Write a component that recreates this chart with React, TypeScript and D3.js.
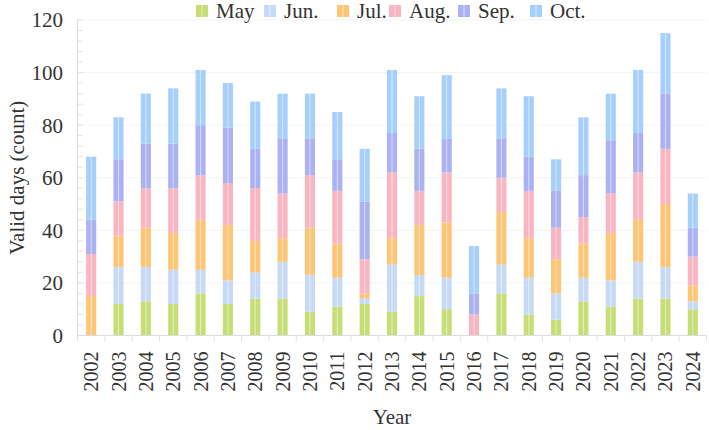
import React from 'react';
import * as d3 from 'd3';

// stacked monthly counts of valid days per year
const years = [
  '2002', '2003', '2004', '2005', '2006', '2007', '2008', '2009', '2010', '2011', '2012', '2013',
  '2014', '2015', '2016', '2017', '2018', '2019', '2020', '2021', '2022', '2023', '2024',
];
const months = ['May', 'Jun.', 'Jul.', 'Aug.', 'Sep.', 'Oct.'];
const may = [0, 12, 13, 12, 16, 12, 14, 14, 9, 11, 12, 9, 15, 10, 0, 16, 8, 6, 13, 11, 14, 14, 10];
const jun = [0, 14, 13, 13, 9, 9, 10, 14, 14, 11, 2, 18, 8, 12, 0, 11, 14, 10, 9, 10, 14, 12, 3];
const jul = [15, 12, 15, 14, 19, 21, 12, 9, 18, 13, 2, 10, 19, 21, 0, 20, 15, 13, 13, 18, 16, 24, 6];
const aug = [16, 13, 15, 17, 17, 16, 20, 17, 20, 20, 13, 25, 13, 19, 8, 13, 18, 12, 10, 15, 18, 21, 11];
const sep = [13, 16, 17, 17, 19, 21, 15, 21, 14, 12, 22, 15, 16, 13, 8, 15, 13, 14, 16, 20, 15, 21, 11];
const oct = [24, 16, 19, 21, 21, 17, 18, 17, 17, 18, 20, 24, 20, 24, 18, 19, 23, 12, 22, 18, 24, 23, 13];
const yTicks = [0, 20, 40, 60, 80, 100, 120];

const colors = ['#c7de76', '#c6daf6', '#fdc676', '#f9b6c2', '#aab2f3', '#a6cffb'];

const W = 709;
const H = 430;
const left = 77.5;
const right = 706.5;
const top = 20;
const bottom = 335.5;
const font = '"Liberation Serif", "Times New Roman", serif';

export default function App() {
  const rows = years.map((year, i) => ({
    year,
    'May': may[i],
    'Jun.': jun[i],
    'Jul.': jul[i],
    'Aug.': aug[i],
    'Sep.': sep[i],
    'Oct.': oct[i],
  }));
  const series = d3.stack<any>().keys(months)(rows);

  const x = d3.scaleBand().domain(years).range([left, right]).padding(0);
  const y = d3.scaleLinear().domain([0, 120]).range([bottom, top]);
  const barW = x.bandwidth() * 0.37;
  const minor = d3.range(0, 121, 4);

  const legendX = [196, 264, 337, 389, 458, 530];

  return (
    <svg width={W} height={H} style={{ position: 'absolute', left: 0, top: 0 }} fontFamily={font}>
      <rect width={W} height={H} fill="#fff" />
      {/* faint grid */}
      {yTicks.slice(1).map((t) => (
        <line key={t} x1={left} x2={right} y1={y(t)} y2={y(t)} stroke="#f3f3f3" />
      ))}
      {/* bars */}
      {series.map((s, k) => (
        <g key={s.key} fill={colors[k]}>
          {s.map((d, i) => {
            const h = y(d[0]) - y(d[1]);
            if (h <= 0) return null;
            const cx = x(years[i])! + x.bandwidth() / 2;
            return (
              <g key={i}>
                <rect x={cx - barW / 2} y={y(d[1])} width={barW} height={h} />
                <line x1={cx} x2={cx} y1={y(d[1])} y2={y(d[0])} stroke="#fff" strokeOpacity={0.55} strokeWidth={1} />
              </g>
            );
          })}
        </g>
      ))}
      {/* y axis */}
      <line x1={left} x2={left} y1={top} y2={bottom} stroke="#dcdcdc" />
      {minor.map((t) => (
        <line key={t} x1={left} x2={left + 5} y1={y(t)} y2={y(t)} stroke="#e2e2e2" />
      ))}
      {yTicks.map((t) => (
        <text key={t} x={63} y={y(t)} dy="0.35em" textAnchor="end" fontSize={21} fill="#333">
          {t}
        </text>
      ))}
      <text
        transform={`translate(24,${(top + bottom) / 2}) rotate(-90)`}
        textAnchor="middle"
        fontSize={21}
        fill="#333"
      >
        Valid days (count)
      </text>
      {/* x axis */}
      <line x1={left} x2={right} y1={bottom} y2={bottom} stroke="#dcdcdc" />
      {years.concat(['']).map((yr, i) => {
        const bx = left + i * x.step();
        return <line key={i} x1={bx} x2={bx} y1={bottom} y2={bottom + 6} stroke="#e2e2e2" />;
      })}
      {years.map((yr) => (
        <text
          key={yr}
          transform={`translate(${x(yr)! + x.bandwidth() / 2},${bottom + 16}) rotate(-90)`}
          textAnchor="end"
          dy="0.35em"
          fontSize={20}
          fill="#333"
        >
          {yr}
        </text>
      ))}
      <text x={(left + right) / 2} y={424} textAnchor="middle" fontSize={21} fill="#333">
        Year
      </text>
      {/* legend */}
      {months.map((m, k) => (
        <g key={m}>
          <rect x={legendX[k]} y={5} width={12} height={12} fill={colors[k]} />
          <line x1={legendX[k] + 6} x2={legendX[k] + 6} y1={5} y2={17} stroke="#fff" strokeOpacity={0.55} />
          <text x={legendX[k] + 20} y={18} fontSize={21} fill="#333">
            {m}
          </text>
        </g>
      ))}
    </svg>
  );
}
